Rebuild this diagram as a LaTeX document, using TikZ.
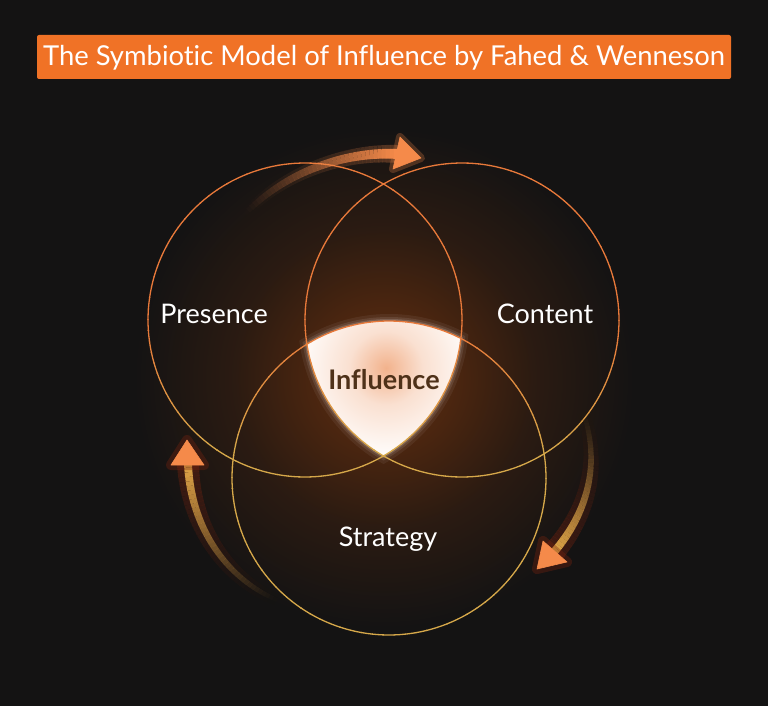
\documentclass[tikz,border=0pt]{standalone}
\usepackage{fontspec}
\setmainfont{Lato}[Ligatures=NoCommon]
\usetikzlibrary{calc}

\definecolor{bg}{HTML}{141313}
\definecolor{ttl}{HTML}{F07226}
\definecolor{lorange}{HTML}{E8793A}
\definecolor{lgold}{HTML}{D6A84A}
\definecolor{glowc}{HTML}{55290F}
\definecolor{aorange}{HTML}{F58A4A}
\definecolor{agold}{HTML}{DDA447}
\definecolor{ahalo}{HTML}{7A2410}
\definecolor{inflc}{HTML}{4E3119}
\definecolor{blob}{HTML}{F2B28C}

\pgfdeclareradialshading{glowshade}{\pgfpoint{0bp}{0bp}}{color(0bp)=(glowc); color(7bp)=(glowc!85!bg); color(15bp)=(glowc!35!bg); color(25bp)=(bg); color(50bp)=(bg)}
\pgfdeclareradialshading{blobshade}{\pgfpoint{0bp}{0bp}}{color(0bp)=(blob); color(10bp)=(blob!40!white); color(25bp)=(white); color(50bp)=(white)}

% gradient, fading, tapering shaft along a Bezier curve
% #1 p0  #2 c1  #3 c2  #4 p3  #5 width  #6 tail colour  #7 head colour  #8 max opacity
\newcommand\gshaft[8]{%
  \foreach \i in {0,...,39}{%
    \pgfmathsetmacro\ta{\i/40}%
    \pgfmathsetmacro\tb{(\i+1)/40}%
    \pgfmathsetmacro\op{#8*((\i+1)/40)^1.3}%
    \pgfmathtruncatemacro\mx{100*\i/39}%
    \pgfmathsetmacro\lw{#5*(0.55+0.45*\i/39)}%
    \colorlet{segc}{#7!\mx!#6}%
    \begin{pgfscope}
      \pgfsetstrokeopacity{\op}%
      \pgfsetlinewidth{\lw pt}%
      \pgfsetstrokecolor{segc}%
      \pgfpathcurvebetweentime{\ta}{\tb}{#1}{#2}{#3}{#4}%
      \pgfusepath{stroke}%
    \end{pgfscope}
  }%
}

\tikzset{
  lbl/.style={text=white, font=\fontsize{27}{32}\selectfont},
  headtri/.style={fill=aorange, draw=aorange, line width=0.6pt, line join=round},
  headglow/.style={draw=ahalo, line width=10pt, line join=round, opacity=0.35},
  headglowo/.style={draw=aorange, line width=8pt, line join=round, opacity=0.25},
}

\begin{document}
\begin{tikzpicture}[x=1pt, y=-1pt]
\useasboundingbox (0,0) rectangle (768,706);
\fill[bg] (0,0) rectangle (768,706);

% central glow
\shade[shading=glowshade] (384,378) circle (250);

% soft white halo round the influence region
\foreach \d/\o in {7/0.06, 4/0.09, 2/0.15}{
  \begin{scope}
    \clip (305,320) circle (157+\d);
    \clip (462,320) circle (157+\d);
    \fill[white, opacity=\o] (389,478) circle (157+\d);
  \end{scope}
}

% influence region
\begin{scope}
  \clip (305,320) circle (157);
  \clip (462,320) circle (157);
  \clip (389,478) circle (157);
  \fill[white] (389,478) circle (157);
  \shade[shading=blobshade] (386,368) circle (92);
\end{scope}

% circles with vertical colour gradient
\foreach \cx/\cy in {305/320, 462/320, 389/478}{
  \foreach \a in {0,4,...,356}{
    \pgfmathsetmacro\py{\cy+157*sin(\a+2)}
    \pgfmathtruncatemacro\t{max(0,min(100,(\py-330)/120*100))}
    \draw[line width=1.3pt, draw=lgold!\t!lorange]
      (\cx,\cy) ++(\a:157) arc[start angle=\a, end angle=\a+4.3, radius=157];
  }
}

% ---- arrows ----
% top arrow
\gshaft{\pgfpointxy{245}{214}}{\pgfpointxy{285}{172}}{\pgfpointxy{345}{151}}{\pgfpointxy{398}{154}}{18}{aorange}{aorange}{0.28}
\gshaft{\pgfpointxy{245}{214}}{\pgfpointxy{285}{172}}{\pgfpointxy{345}{151}}{\pgfpointxy{398}{154}}{10}{aorange}{aorange}{1}
\coordinate (tA) at (421,158);
\coordinate (tB) at (400,137);
\coordinate (tC) at (393,169);
\draw[headglowo] (tA) -- (tB) -- (tC) -- cycle;
\fill[headtri] (tA) -- (tB) -- (tC) -- cycle;

% left arrow
\gshaft{\pgfpointxy{277}{600}}{\pgfpointxy{225}{578}}{\pgfpointxy{190}{525}}{\pgfpointxy{188}{463}}{22}{ahalo}{ahalo}{0.4}
\gshaft{\pgfpointxy{277}{600}}{\pgfpointxy{225}{578}}{\pgfpointxy{190}{525}}{\pgfpointxy{188}{463}}{8}{agold}{agold}{1}
\coordinate (lA) at (187,440);
\coordinate (lB) at (171,465);
\coordinate (lC) at (204,465);
\draw[headglow] (lA) -- (lB) -- (lC) -- cycle;
\fill[headtri] (lA) -- (lB) -- (lC) -- cycle;

% right arrow
\gshaft{\pgfpointxy{583}{412}}{\pgfpointxy{600}{460}}{\pgfpointxy{590}{510}}{\pgfpointxy{554}{552}}{22}{ahalo}{ahalo}{0.4}
\gshaft{\pgfpointxy{583}{412}}{\pgfpointxy{600}{460}}{\pgfpointxy{590}{510}}{\pgfpointxy{554}{552}}{8}{agold}{agold}{1}
\coordinate (rA) at (537,569);
\coordinate (rB) at (543,541);
\coordinate (rC) at (567,562);
\draw[headglow] (rA) -- (rB) -- (rC) -- cycle;
\fill[headtri] (rA) -- (rB) -- (rC) -- cycle;

% title
\fill[ttl, rounded corners=2pt] (37,35) rectangle (731,79);
\node[text=white, font=\fontsize{27.4}{32}\selectfont] (title) at (384,58) {The Symbiotic Model of Influence by Fahed \& Wenneson};

% labels
\node[lbl] (presence) at (214,314) {Presence};
\node[lbl] (content) at (545,314) {Content};
\node[lbl] (strategy) at (388,539) {Strategy};
\node[text=inflc, font=\fontsize{27}{32}\selectfont\bfseries] (influence) at (384,380) {Influence};
\end{tikzpicture}
\end{document}
